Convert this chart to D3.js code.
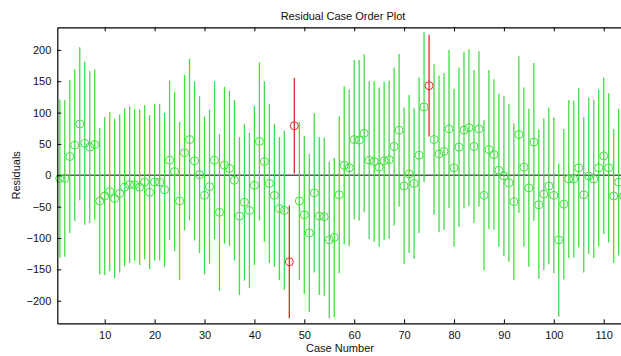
<!DOCTYPE html>
<html>
<head>
<meta charset="utf-8">
<script src="https://cdn.jsdelivr.net/npm/d3@7"></script>
<style>
  html, body { margin: 0; padding: 0; background: #fff; overflow: hidden; }
  text { font-family: "Liberation Sans", Arial, sans-serif; fill: #111; }
</style>
</head>
<body>
<div id="chart"></div>
<script>
// residuals, case 1..114
const residuals = [
  -5, -5, 30, 48, 82, 51, 45, 49, -41, -33,
  -26, -37, -29, -19, -15, -15, -19, -11, -27, -11,
  -11, -23, 24, 6, -41, 36, 57, 23, 1, -32,
  -18, 24, -59, 16, 11, -8, -65, -43, -56, -16,
  54, 22, -13, -32, -53, -56, -138, 79, -41, -63,
  -92, -28, -65, -66, -103, -99, -31, 16, 12, 57,
  56, 67, 24, 22, 13, 23, 25, 46, 72, -17,
  2, -13, 32, 109, 143, 57, 34, 38, 74, 12,
  45, 72, 76, 46, 74, -32, 41, 33, 8, -1,
  -12, -42, 65, 13, -20, 53, -47, -30, -17, -32,
  -103, -46, -6, -6, 12, -31, -1, -6, 12, 31,
  12, -33, -11, -33
];
// interval ends (rint)
const lower = [
  -131, -130, -92, -73, -40, -79, -76, -71, -158, -159,
  -153, -164, -155, -145, -140, -136, -143, -134, -150, -136,
  -136, -146, -103, -121, -167, -88, -72, -104, -124, -158,
  -141, -102, -184, -109, -113, -136, -191, -168, -180, -143,
  -72, -106, -140, -146, -167, -183, -228, 3, -167, -189,
  -218, -155, -191, -192, -228, -226, -156, -110, -113, -70,
  -72, -59, -102, -106, -114, -103, -101, -80, -50, -142,
  -124, -133, -92, -11, 62, -63, -91, -87, -52, -114,
  -82, -53, -49, -76, -50, -152, -86, -87, -114, -129,
  -138, -167, -60, -114, -146, -73, -165, -151, -142, -156,
  -225, -166, -132, -131, -115, -155, -126, -132, -113, -94,
  -107, -140, -128, -153
];
const upper = [
  121, 120, 152, 169, 204, 181, 166, 169, 76, 93,
  101, 90, 97, 107, 110, 106, 105, 112, 96, 114,
  114, 100, 151, 133, 85, 160, 186, 150, 126, 94,
  105, 150, 66, 141, 135, 120, 61, 82, 68, 111,
  180, 150, 114, 82, 61, 71, -48, 155, 85, 63,
  34, 99, 61, 60, 22, 28, 94, 142, 137, 184,
  184, 193, 150, 150, 140, 149, 151, 172, 194, 108,
  128, 107, 156, 229, 224, 177, 159, 163, 200, 138,
  172, 197, 201, 168, 198, 88, 168, 153, 130, 127,
  114, 83, 190, 140, 106, 179, 73, 91, 108, 92,
  19, 74, 120, 119, 139, 93, 124, 120, 137, 156,
  131, 74, 106, 87
];
const xTicks = [10, 20, 30, 40, 50, 60, 70, 80, 90, 100, 110];
const yTicks = [-200, -150, -100, -50, 0, 50, 100, 150, 200];

const width = 621, height = 356;
const plotLeft = 57.3, plotTop = 27.3, plotBottom = 323.3;

const data = residuals.map((r, i) => ({
  case: i + 1, r, lo: lower[i], hi: upper[i]
}));

const svg = d3.select('#chart').append('svg')
  .attr('width', width)
  .attr('height', height);

const x = d3.scaleLinear()
  .domain([0.5, data.length + 0.5])
  .range([plotLeft, plotLeft + 4.99 * data.length]);
const y = d3.scaleLinear()
  .domain([-236, 236])
  .range([plotBottom, plotTop]);

const green = '#45dd45';
const red = '#e02a2a';
const colorOf = d => (d.lo > 0 || d.hi < 0) ? red : green;

// zero reference line
svg.append('line')
  .attr('x1', x(0.5)).attr('x2', width)
  .attr('y1', y(0)).attr('y2', y(0))
  .attr('stroke', '#555').attr('stroke-width', 1.6);

// intervals
svg.append('g').selectAll('line')
  .data(data)
  .enter().append('line')
  .attr('x1', d => x(d.case)).attr('x2', d => x(d.case))
  .attr('y1', d => y(d.lo)).attr('y2', d => y(d.hi))
  .attr('stroke', colorOf)
  .attr('stroke-width', 1.3);

// residual markers
svg.append('g').selectAll('circle')
  .data(data)
  .enter().append('circle')
  .attr('cx', d => x(d.case))
  .attr('cy', d => y(d.r))
  .attr('r', 4)
  .attr('fill', 'none')
  .attr('stroke', colorOf)
  .attr('stroke-width', 1);

// axes (MATLAB style, ticks inside)
const xAxisB = svg.append('g')
  .attr('transform', `translate(0,${plotBottom})`)
  .call(d3.axisBottom(x).tickValues(xTicks).tickSizeInner(-4).tickSizeOuter(0).tickPadding(8));
const xAxisT = svg.append('g')
  .attr('transform', `translate(0,${plotTop})`)
  .call(d3.axisTop(x).tickValues(xTicks).tickSizeInner(-4).tickSizeOuter(0).tickFormat(''));
const yAxis = svg.append('g')
  .attr('transform', `translate(${plotLeft},0)`)
  .call(d3.axisLeft(y).tickValues(yTicks).tickSizeInner(-4).tickSizeOuter(0).tickPadding(6));

[xAxisB, xAxisT, yAxis].forEach(a => {
  a.select('.domain').attr('stroke', '#000').attr('stroke-width', 1.2);
  a.selectAll('.tick line').attr('stroke', '#000');
  a.selectAll('.tick text').attr('font-size', 11).attr('fill', '#111')
    .attr('font-family', '"Liberation Sans", Arial, sans-serif');
});

// titles
svg.append('text')
  .attr('x', 343).attr('y', 20)
  .attr('text-anchor', 'middle')
  .attr('font-size', 11)
  .text('Residual Case Order Plot');

svg.append('text')
  .attr('x', 340).attr('y', 352)
  .attr('text-anchor', 'middle')
  .attr('font-size', 11)
  .text('Case Number');

svg.append('text')
  .attr('transform', `translate(20,${y(0)}) rotate(-90)`)
  .attr('text-anchor', 'middle')
  .attr('font-size', 11)
  .text('Residuals');
</script>
</body>
</html>
